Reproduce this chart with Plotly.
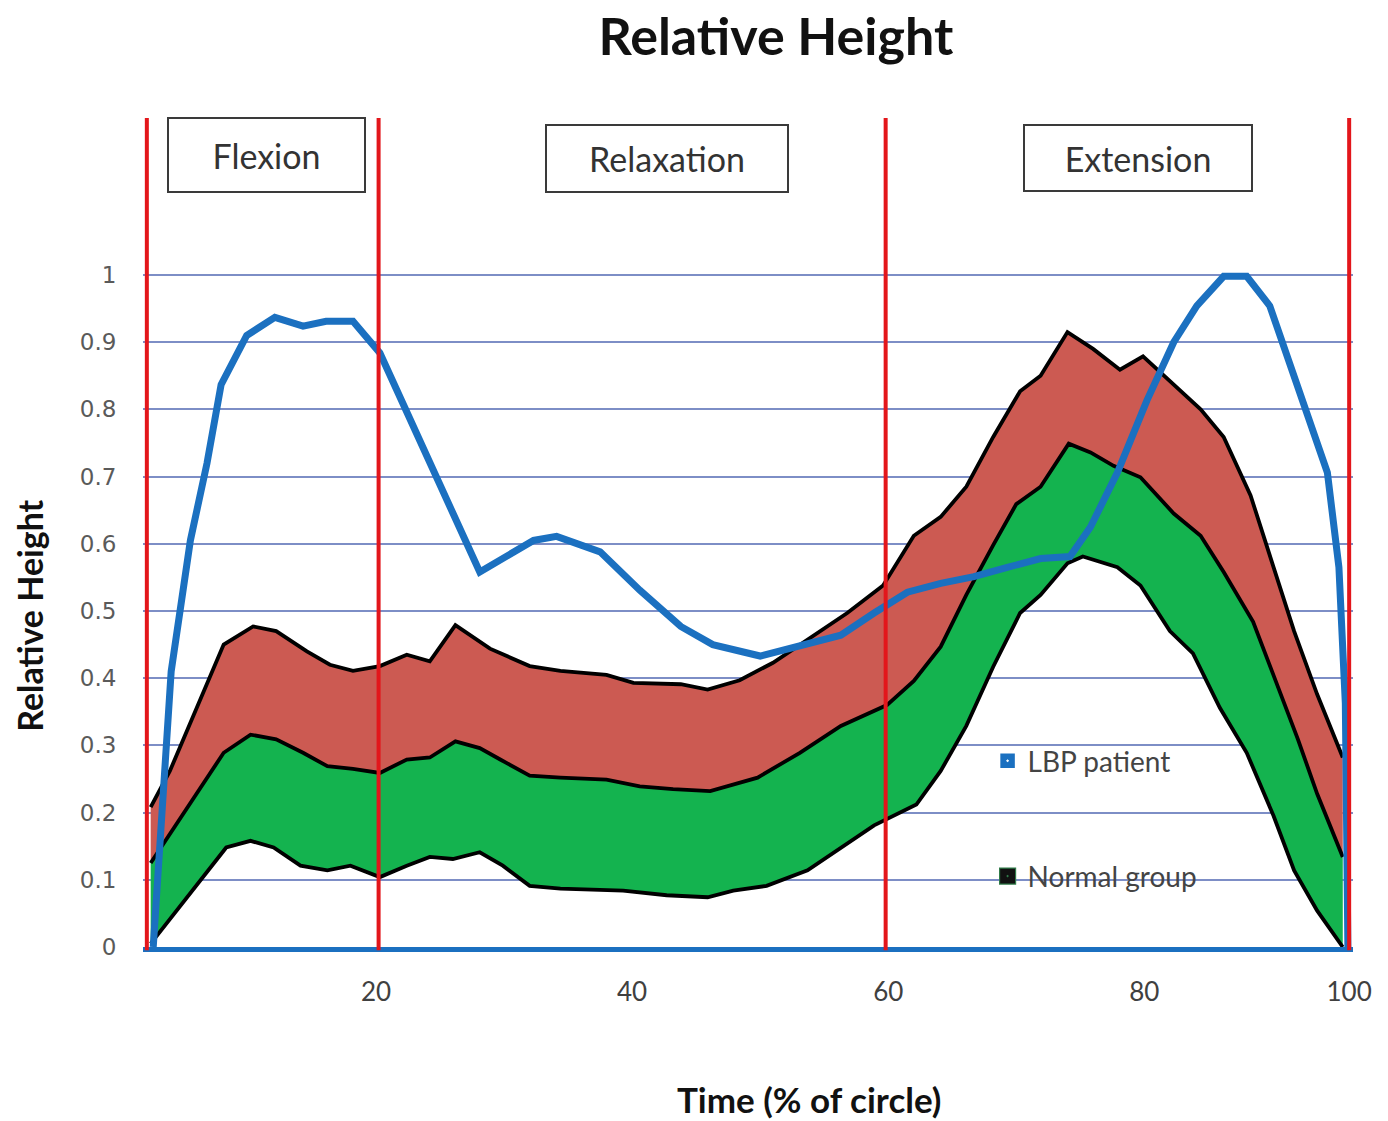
import plotly.graph_objects as go

# Time axis (% of cycle) and relative height readings
lbp_t = [2.6, 4.0, 5.5, 6.8, 7.9, 9.9, 12.1, 14.3, 16.1, 18.2,
         20.3, 22.7, 28.1, 32.3, 34.1, 37.5, 40.6, 43.8, 46.3, 50.0,
         53.4, 56.3, 58.9, 61.5, 64.1, 66.7, 69.3, 71.9, 74.2, 75.8,
         77.9, 80.2, 82.3, 84.1, 86.2, 88.0, 89.8, 91.7, 94.3, 95.2,
         95.7, 95.9]
lbp_y = [0.00, 0.41, 0.605, 0.72, 0.837, 0.91, 0.937, 0.924, 0.931, 0.931,
         0.884, 0.783, 0.558, 0.605, 0.611, 0.588, 0.531, 0.477, 0.450, 0.433,
         0.450, 0.464, 0.497, 0.528, 0.541, 0.551, 0.565, 0.578, 0.581, 0.625,
         0.706, 0.813, 0.900, 0.954, 0.998, 0.998, 0.954, 0.847, 0.706, 0.565,
         0.363, 0.0]

# Normal group: upper bound, mean and lower bound
upper_t = [2.4, 3.9, 8.1, 10.4, 12.2, 14.6, 16.4, 18.2, 20.3, 22.4,
           24.2, 26.2, 28.9, 32.0, 34.4, 38.0, 40.1, 43.8, 45.9, 48.4,
           51.0, 53.7, 56.8, 59.6, 62.0, 64.1, 66.1, 68.2, 70.3, 71.9,
           74.0, 76.0, 78.1, 79.9, 82.3, 84.4, 86.2, 88.3, 90.1, 91.7,
           93.5, 95.5]
upper_y = [0.208, 0.262, 0.45, 0.477, 0.470, 0.44, 0.42, 0.411, 0.418, 0.435,
           0.425, 0.479, 0.444, 0.418, 0.411, 0.405, 0.393, 0.391, 0.383, 0.397,
           0.423, 0.457, 0.497, 0.538, 0.612, 0.640, 0.685, 0.759, 0.827, 0.850,
           0.915, 0.890, 0.859, 0.879, 0.837, 0.800, 0.759, 0.672, 0.565, 0.470,
           0.376, 0.282]

mid_t = [2.4, 8.1, 10.2, 12.2, 14.3, 16.2, 18.2, 20.3, 22.4, 24.2,
         26.2, 28.1, 29.7, 32.0, 34.4, 38.0, 40.6, 43.2, 46.1, 49.8,
         53.1, 56.3, 59.9, 62.0, 64.1, 66.1, 68.2, 70.0, 71.9, 74.1,
         75.8, 77.6, 79.7, 82.3, 84.4, 86.2, 88.5, 90.1, 92.0, 93.5,
         95.5]
mid_y = [0.125, 0.289, 0.316, 0.309, 0.289, 0.269, 0.265, 0.259, 0.279, 0.282,
         0.306, 0.296, 0.279, 0.255, 0.252, 0.249, 0.239, 0.235, 0.232, 0.252,
         0.289, 0.329, 0.360, 0.396, 0.447, 0.524, 0.598, 0.659, 0.685, 0.749,
         0.736, 0.716, 0.699, 0.645, 0.612, 0.558, 0.484, 0.403, 0.309, 0.228,
         0.134]

lower_t = [2.4, 6.3, 8.3, 10.2, 12.0, 14.1, 16.2, 18.0, 20.3, 22.4,
           24.2, 26.0, 28.1, 29.9, 32.0, 34.4, 39.3, 42.7, 45.9, 47.9,
           50.5, 53.7, 56.3, 58.9, 62.2, 64.1, 66.1, 68.2, 70.3, 71.9,
           74.0, 75.2, 77.9, 79.7, 82.0, 83.8, 85.9, 88.0, 90.1, 91.7,
           93.5, 95.5]
lower_y = [0.005, 0.10, 0.148, 0.158, 0.148, 0.121, 0.114, 0.121, 0.104, 0.121,
           0.134, 0.131, 0.141, 0.121, 0.091, 0.087, 0.084, 0.077, 0.074, 0.084,
           0.091, 0.114, 0.148, 0.181, 0.212, 0.262, 0.329, 0.417, 0.497, 0.524,
           0.571, 0.581, 0.565, 0.538, 0.470, 0.437, 0.356, 0.289, 0.195, 0.114,
           0.054, 0.0]

# Phase boundaries and labels
phase_bounds = [2.1, 20.2, 59.8, 96.0]
phase_names = ["Flexion", "Relaxation", "Extension"]

y_ticks = [0, 0.1, 0.2, 0.3, 0.4, 0.5, 0.6, 0.7, 0.8, 0.9, 1]
y_tick_text = ["0", "0.1", "0.2", "0.3", "0.4", "0.5", "0.6", "0.7", "0.8", "0.9", "1"]
x_ticks = [20, 40, 60, 80, 96.0]
x_tick_text = ["20", "40", "60", "80", "100"]

BLUE = "#1b70c0"
RED_BAND = "#cc5a52"
GREEN_BAND = "#14b34f"
RED_LINE = "#e3161b"
GRID = "#7d8ec6"
LABEL_FONT = "Lato"

fig = go.Figure()

# Lower bound of the normal group
fig.add_trace(go.Scatter(x=lower_t, y=lower_y, mode="lines",
                         line=dict(color="black", width=3.8),
                         showlegend=False, hoverinfo="skip"))
# Green band: lower bound to mean
fig.add_trace(go.Scatter(x=mid_t, y=mid_y, mode="lines", fill="tonexty",
                         fillcolor=GREEN_BAND,
                         line=dict(color="black", width=3.8),
                         showlegend=False, hoverinfo="skip"))
# Red band: mean to upper bound
fig.add_trace(go.Scatter(x=upper_t, y=upper_y, mode="lines", fill="tonexty",
                         fillcolor=RED_BAND,
                         line=dict(color="black", width=3.8),
                         showlegend=False, hoverinfo="skip"))
# LBP patient curve
fig.add_trace(go.Scatter(x=lbp_t, y=lbp_y, mode="lines",
                         line=dict(color=BLUE, width=7),
                         showlegend=False))

# Legend entries
fig.add_trace(go.Scatter(x=[None], y=[None], mode="markers", name="LBP patient",
                         legendgroup="lbp",
                         marker=dict(symbol="square-dot", size=16, color=BLUE,
                                     line=dict(color="white", width=1.5))))
fig.add_trace(go.Scatter(x=[None], y=[None], mode="markers", name="Normal group",
                         legendgroup="normal",
                         marker=dict(symbol="square-dot", size=16, color="#111111",
                                     line=dict(color="#2f7a48", width=1.2))))

# Vertical phase boundaries
for b in phase_bounds:
    fig.add_shape(type="line", xref="x", yref="paper", x0=b, x1=b, y0=-0.004, y1=1,
                  line=dict(color=RED_LINE, width=4), layer="above")

# Phase label boxes
box_specs = [(11.45, 1.1786, 195, 72), (42.73, 1.1734, 240, 65), (79.53, 1.174, 226, 64)]
for name, (bx, by, bw, bh) in zip(phase_names, box_specs):
    fig.add_annotation(x=bx, y=by, xref="x", yref="y", text=name, showarrow=False,
                       width=bw, height=bh, borderpad=0,
                       bordercolor="#3a3a3a", borderwidth=2, bgcolor="white",
                       font=dict(family=LABEL_FONT, size=34, color="#333333"))

# Axis titles
fig.add_annotation(x=0.55, y=-0.183, xref="paper", yref="paper",
                   xanchor="center", yanchor="middle",
                   text="<b>Time (% of circle)</b>", showarrow=False,
                   font=dict(family=LABEL_FONT, size=35, color="#111111"))
fig.add_annotation(x=-0.0934, y=0.3995, xref="paper", yref="paper",
                   xanchor="center", yanchor="middle",
                   text="<b>Relative Height</b>", showarrow=False, textangle=-90,
                   font=dict(family=LABEL_FONT, size=34, color="#111111"))

fig.update_layout(
    width=1388, height=1121,
    margin=dict(l=143, r=35, t=118, b=174),
    paper_bgcolor="white", plot_bgcolor="white",
    title=dict(text="<b>Relative Height</b>", x=0.559, xref="container",
               xanchor="center", y=0.967, yref="container", yanchor="middle",
               font=dict(family=LABEL_FONT, size=52, color="#111111")),
    xaxis=dict(range=[1.8, 96.3], tickvals=x_ticks, ticktext=x_tick_text,
               showgrid=False, zeroline=False,
               showline=True, linecolor=BLUE, linewidth=5,
               ticks="outside", ticklen=18, tickcolor="rgba(0,0,0,0)",
               tickfont=dict(family=LABEL_FONT, size=26, color="#404040")),
    yaxis=dict(range=[0, 1.2336], tickvals=y_ticks, ticktext=y_tick_text,
               showgrid=True, gridcolor=GRID, gridwidth=2, zeroline=False,
               showline=False,
               ticks="outside", ticklen=21, tickcolor="rgba(0,0,0,0)",
               tickfont=dict(family="DejaVu Sans", size=23, color="#5a5a5a")),
    legend=dict(x=0.698, y=0.2545, xanchor="left", yanchor="top",
                traceorder="grouped", tracegroupgap=76,
                bgcolor="rgba(0,0,0,0)",
                font=dict(family=LABEL_FONT, size=28, color="#444444")),
)

fig.write_html("out.html")
